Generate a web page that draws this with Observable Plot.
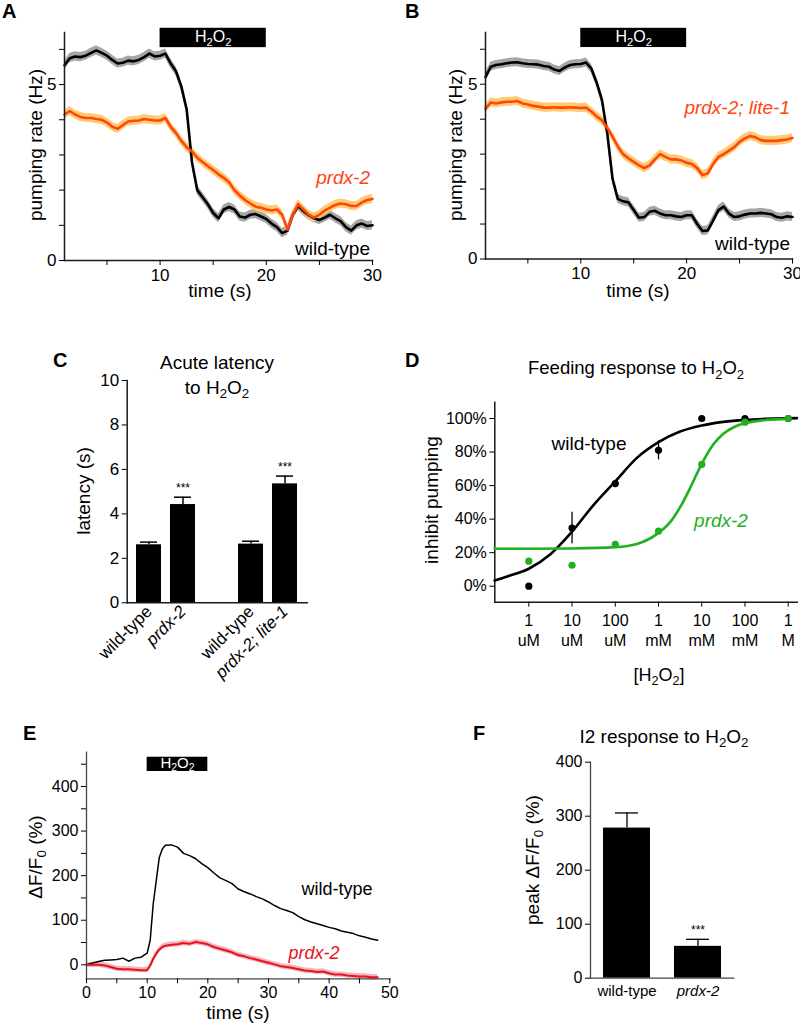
<!DOCTYPE html>
<html><head><meta charset="utf-8">
<script src="https://cdn.jsdelivr.net/npm/d3@7"></script>
<script src="https://cdn.jsdelivr.net/npm/@observablehq/plot@0.6"></script>
<style>
html,body{margin:0;padding:0;background:#fff;overflow:hidden}
#fig{position:relative;width:800px;height:1024px}
#fig svg{position:absolute;left:0;top:0}
</style></head><body><div id="fig"></div>
<script>
// ---------------- DATA ----------------
const abTime = [1,1.5,2,2.5,3,3.5,4,4.5,5,5.5,6,6.5,7,7.5,8,8.5,9,9.5,10,10.5,11,11.5,12,12.5,13,13.5,14,14.5,15,15.5,16,16.5,17,17.5,18,18.5,19,19.5,20,20.5,21,21.5,22,22.5,23,23.5,24,24.5,25,25.5,26,26.5,27,27.5,28,28.5,29,29.5,30];
const aWildType = [5.55,5.75,5.8,5.78,5.82,5.9,5.97,5.9,5.82,5.7,5.6,5.62,5.68,5.66,5.7,5.78,5.88,5.8,5.82,5.88,5.6,5.38,4.95,4.3,2.8,2.0,1.8,1.6,1.35,1.2,1.45,1.52,1.45,1.25,1.22,1.3,1.32,1.25,1.18,1.05,0.95,0.78,0.85,1.3,1.55,1.4,1.28,1.2,1.15,1.22,1.3,1.2,1.12,0.95,0.85,1.0,1.05,0.98,1.0];
const aPrdx2 = [4.15,4.25,4.15,4.08,4.05,4.05,4.02,4.0,3.92,3.8,3.74,3.85,3.95,3.97,3.98,4.02,4.0,3.98,3.98,4.05,3.8,3.62,3.4,3.22,3.1,2.92,2.8,2.68,2.57,2.45,2.35,2.22,2.0,1.85,1.72,1.62,1.53,1.5,1.45,1.42,1.45,1.3,0.88,1.3,1.6,1.45,1.3,1.22,1.3,1.42,1.5,1.58,1.62,1.6,1.55,1.55,1.65,1.72,1.75];
const bWildType = [5.2,5.5,5.55,5.57,5.6,5.62,5.63,5.6,5.58,5.57,5.56,5.52,5.5,5.42,5.38,5.48,5.55,5.57,5.58,5.62,5.45,5.05,4.55,3.6,2.3,1.72,1.65,1.62,1.4,1.18,1.2,1.35,1.38,1.3,1.25,1.25,1.22,1.2,1.25,1.25,1.0,0.8,0.82,1.1,1.4,1.5,1.3,1.2,1.22,1.27,1.3,1.3,1.32,1.3,1.28,1.2,1.18,1.22,1.2];
const bPrdx2Lite1 = [4.3,4.48,4.45,4.48,4.5,4.5,4.52,4.45,4.42,4.38,4.36,4.33,4.33,4.34,4.33,4.33,4.34,4.33,4.32,4.33,4.22,4.08,3.97,3.75,3.5,3.22,3.0,2.88,2.78,2.68,2.6,2.68,2.85,3.0,2.92,2.85,2.85,2.82,2.75,2.72,2.6,2.4,2.45,2.72,2.92,3.0,3.1,3.2,3.35,3.45,3.52,3.48,3.4,3.38,3.38,3.38,3.4,3.42,3.46];
const abSem = 0.13;
const stimAB = [10, 20];

const cKeys = ["wt-1", "prdx-2", "wt-2", "prdx-2; lite-1"];
const cLabels = ["wild-type", "prdx-2", "wild-type", "prdx-2; lite-1"];
const cLatency = [2.61, 4.42, 2.64, 5.35];
const cSem = [0.12, 0.33, 0.13, 0.35];
const cStars = ["", "***", "", "***"];

const dConc = [1e-6, 1e-5, 1e-4, 1e-3, 1e-2, 1e-1, 1];
const dTickLabels = ["1\nuM", "10\nuM", "100\nuM", "1\nmM", "10\nmM", "100\nmM", "1\nM"];
const dWildType = [0.0, 0.347, 0.612, 0.81, 1.0, 1.0, 1.0];
const dWildTypeErr = [0, 0.094, 0, 0.057, 0, 0, 0];
const dPrdx2 = [0.149, 0.125, 0.25, 0.328, 0.726, 0.978, 1.0];
const dFitWildTypeLog = [-6.79, -6.5, -6, -5.5, -5, -4.5, -4, -3.5, -3, -2.5, -2, -1.5, -1, -0.5, 0.2];
const dFitWildType = [0.034, 0.058, 0.104, 0.19, 0.325, 0.485, 0.625, 0.765, 0.859, 0.922, 0.958, 0.98, 0.992, 0.998, 1.002];
const dFitPrdx2Log = [-6.79, -6, -5, -4, -3.5, -3, -2.72, -2.5, -2.26, -2, -1.72, -1.5, -1.26, -1, -0.5, 0];
const dFitPrdx2 = [0.223, 0.223, 0.225, 0.233, 0.252, 0.318, 0.385, 0.471, 0.59, 0.73, 0.849, 0.909, 0.948, 0.972, 0.992, 0.998];

const eTime = [0,1,2,3,4,5,6,7,8,9,10,10.5,11,11.5,12,12.5,13,14,15,16,17,18,19,20,21,22,23,24,25,26,27,28,29,30,31,32,33,34,35,36,37,38,39,40,41,42,43,44,45,46,47,48];
const eWildType = [0,4,7.5,10,11,12,15,8,15,17,26,55,137,189,241,260,268,269,264,250,245,238,227,218,206,195,189,182,170,164,159,153,148,141,133,126,122,117,108,101,96,92,88,84,81,76,73,70,65,62,58,55];
const ePrdx2 = [0,0,0,-1.5,-5,-9,-10,-10,-11,-12,-12,-2,13,25,34,40,43,45,46,49,47,51,49,46,40,36,32,28,22,19,15,12,8,4.5,1,-3,-5,-7,-10,-13,-14,-16,-15,-19,-22,-22,-24,-25,-26,-26,-28,-28];
const ePrdx2Sem = 6;
const stimE = [10, 20];

const fLabels = ["wild-type", "prdx-2"];
const fPeak = [278, 59];
const fSem = [28, 13];
const fStars = ["", "***"];

// ---------------- HELPERS ----------------
const FONT = "'Liberation Sans', Arial, Helvetica, sans-serif";
const W = 800, H = 1024;
const ORANGE = "#ff4510", YEL = "#ffcc70", GREY = "#a6a6a6";
const GREEN = "#1fb01f", RED = "#e3141c", PINK = "#f6b3b9";
const AX = "#1a1a1a";
const fig = document.getElementById("fig");

function mk(box, opts) {
  const svg = Plot.plot({
    width: W, height: H,
    marginLeft: box[0], marginTop: box[1], marginRight: W - box[2], marginBottom: H - box[3],
    style: {background: "transparent", fontFamily: FONT, fontSize: "16px", color: "#000", overflow: "visible"},
    ...opts
  });
  fig.appendChild(svg);
  return svg;
}
function txt(svg, x, y, s, o = {}) {
  return d3.select(svg).append("text")
    .attr("transform", `translate(${x},${y})` + (o.rotate ? ` rotate(${o.rotate})` : ""))
    .attr("text-anchor", o.anchor || "middle")
    .attr("dy", o.dy ?? "0.35em")
    .attr("font-size", o.size || 18)
    .attr("font-weight", o.weight || "normal")
    .attr("font-style", o.italic ? "italic" : "normal")
    .attr("fill", o.fill || "#000")
    .attr("font-family", FONT)
    .text(s);
}
function letter(svg, x, y, s) { txt(svg, x, y, s, {anchor: "start", dy: 0, size: 20, weight: "bold"}); }
function subs(svg) {
  const SHIFT = 0.22, SCALE = 0.7;
  svg.querySelectorAll("text, tspan").forEach(el => {
    if (el.children.length) return;
    const s = el.textContent;
    if (!/[\u2080-\u2089]/.test(s)) return;
    el.textContent = "";
    let down = false;
    for (const part of s.split(/([\u2080-\u2089]+)/)) {
      if (!part) continue;
      const sub = /[\u2080-\u2089]/.test(part);
      const ts = document.createElementNS("http://www.w3.org/2000/svg", "tspan");
      if (sub) {
        ts.textContent = [...part].map(c => String.fromCharCode(c.charCodeAt(0) - 0x2080 + 48)).join("");
        ts.setAttribute("font-size", (SCALE * 100) + "%");
        ts.setAttribute("dy", (SHIFT / SCALE).toFixed(3) + "em");
        down = true;
      } else {
        ts.textContent = part;
        if (down) { ts.setAttribute("dy", (-SHIFT) + "em"); down = false; }
      }
      el.appendChild(ts);
    }
  });
}
function italicize(svg, re) {
  svg.querySelectorAll("text").forEach(el => { if (re.test(el.textContent)) el.setAttribute("font-style", "italic"); });
}
const lo = (v, e) => v.map((d, i) => d - (Array.isArray(e) ? e[i] : e));
const hi = (v, e) => v.map((d, i) => d + (Array.isArray(e) ? e[i] : e));

// ---------------- PANELS A & B ----------------
function tracePanel(box, wt, mut) {
  return mk(box, {
    x: {domain: [1, 30]}, y: {domain: [0, 6.48]},
    marks: [
      Plot.areaY(wt, {x: abTime, y1: lo(wt, abSem), y2: hi(wt, abSem), fill: GREY}),
      Plot.areaY(mut, {x: abTime, y1: lo(mut, abSem), y2: hi(mut, abSem), fill: YEL}),
      Plot.lineY(wt, {x: abTime, stroke: "#000", strokeWidth: 2.6}),
      Plot.lineY(mut, {x: abTime, stroke: ORANGE, strokeWidth: 2.6}),
      Plot.frame({anchor: "left", stroke: AX, strokeWidth: 1.5}),
      Plot.frame({anchor: "bottom", stroke: AX, strokeWidth: 1.5}),
      Plot.axisX({ticks: [5, 10, 15, 20, 25, 30], tickFormat: d => d % 10 ? "" : d, tickSize: 5, tickPadding: 3, fontSize: 17, label: null}),
      Plot.axisY({ticks: [0, 1, 2, 3, 4, 5, 6], tickFormat: d => d % 5 ? "" : d, tickSize: 5, tickPadding: 3, fontSize: 17, label: null}),
      Plot.rect([stimAB], {x1: d => d[0], x2: d => d[1], y1: 6.05, y2: 6.6, fill: "#000"}),
      Plot.text([stimAB], {x: d => (d[0] + d[1]) / 2, y: 6.35, text: () => "H₂O₂", fill: "#fff", fontSize: 16})
    ]
  });
}
const svgA = tracePanel([64, 32, 372, 260], aWildType, aPrdx2);
letter(svgA, 2, 18, "A");
txt(svgA, 35, 145, "pumping rate (Hz)", {rotate: -90, size: 19});
txt(svgA, 220, 290, "time (s)", {size: 19});
txt(svgA, 370, 177, "prdx-2", {anchor: "end", italic: true, fill: ORANGE, size: 19});
txt(svgA, 370, 248, "wild-type", {anchor: "end", size: 19});

const svgB = tracePanel([485, 32, 792, 258.5], bWildType, bPrdx2Lite1);
letter(svgB, 405, 18, "B");
txt(svgB, 455, 145, "pumping rate (Hz)", {rotate: -90, size: 19});
txt(svgB, 638, 290, "time (s)", {size: 19});
txt(svgB, 790, 107, "prdx-2; lite-1", {anchor: "end", italic: true, fill: ORANGE, size: 19});
txt(svgB, 790, 243, "wild-type", {anchor: "end", size: 19});

// ---------------- PANEL C ----------------
const cTop = hi(cLatency, cSem);
const svgC = mk([126.7, 380, 306.7, 602.3], {
  x: {type: "band", domain: [cKeys[0], cKeys[1], "gap", cKeys[2], cKeys[3]], paddingInner: 0.2565, paddingOuter: 0.2425},
  y: {domain: [0, 10]},
  marks: [
    Plot.ruleX(cLatency, {x: cKeys, y1: cLatency, y2: cTop, stroke: "#000", strokeWidth: 1.5}),
    Plot.tickY(cLatency, {x: cKeys, y: cTop, stroke: "#000", strokeWidth: 1.5, insetLeft: 4, insetRight: 4}),
    Plot.barY(cLatency, {x: cKeys, y: cLatency, fill: "#000"}),
    Plot.text(cStars, {x: cKeys, y: cTop, text: cStars, dy: -9, fontSize: 12}),
    Plot.frame({anchor: "left", stroke: AX, strokeWidth: 1.5}),
    Plot.frame({anchor: "bottom", stroke: AX, strokeWidth: 1.5}),
    Plot.axisY({ticks: [0, 2, 4, 6, 8, 10], tickSize: 5, tickPadding: 3, fontSize: 17, label: null}),
    Plot.axisX({ticks: cKeys, tickFormat: k => cLabels[cKeys.indexOf(k)], tickRotate: -45, tickSize: 0, tickPadding: 6, fontSize: 17, label: null})
  ]
});
italicize(svgC, /prdx/);
letter(svgC, 53, 367, "C");
txt(svgC, 217, 362, "Acute latency", {size: 19});
txt(svgC, 217, 387, "to H₂O₂", {size: 19});
txt(svgC, 83, 491, "latency (s)", {rotate: -90, size: 19});

// ---------------- PANEL D ----------------
const svgD = mk([494.3, 401.7, 796.7, 601.7], {
  x: {type: "log", domain: [Math.pow(10, -6.7865), Math.pow(10, 0.208)]},
  y: {domain: [-0.0954, 1.0972]},
  marks: [
    Plot.frame({anchor: "left", stroke: AX, strokeWidth: 1.5}),
    Plot.frame({anchor: "bottom", stroke: AX, strokeWidth: 1.5}),
    Plot.axisY({ticks: [0, 0.2, 0.4, 0.6, 0.8, 1], tickFormat: d => Math.round(d * 100) + "%", tickSize: 5, tickPadding: 3, fontSize: 16, label: null}),
    Plot.axisX({ticks: dConc, tickFormat: d => dTickLabels[dConc.indexOf(d)], tickSize: 5, tickPadding: 5, fontSize: 16, lineHeight: 1.25, label: null}),
    Plot.ruleX(dWildType, {x: dConc, y1: lo(dWildType, dWildTypeErr), y2: hi(dWildType, dWildTypeErr), stroke: "#000", strokeWidth: 1.3}),
    Plot.line(dFitWildType, {x: dFitWildTypeLog.map(e => Math.pow(10, e)), y: dFitWildType, curve: "monotone-x", stroke: "#000", strokeWidth: 2.6}),
    Plot.dot(dWildType, {x: dConc, y: dWildType, r: 3.6, fill: "#000"}),
    Plot.line(dFitPrdx2, {x: dFitPrdx2Log.map(e => Math.pow(10, e)), y: dFitPrdx2, curve: "monotone-x", stroke: GREEN, strokeWidth: 2.6}),
    Plot.dot(dPrdx2, {x: dConc, y: dPrdx2, r: 3.6, fill: GREEN})
  ]
});
letter(svgD, 405, 367, "D");
txt(svgD, 636, 368, "Feeding response to H₂O₂", {size: 18.5});
txt(svgD, 431, 500, "inhibit pumping", {rotate: -90, size: 19});
txt(svgD, 589, 443, "wild-type", {size: 19});
txt(svgD, 721, 520, "prdx-2", {size: 19, italic: true, fill: GREEN});
txt(svgD, 659, 675, "[H₂O₂]", {size: 18});

// ---------------- PANEL E ----------------
const svgE = mk([86, 751.7, 389.3, 978.3], {
  x: {domain: [0, 50]}, y: {domain: [-31.4, 477]},
  marks: [
    Plot.areaY(ePrdx2, {x: eTime, y1: lo(ePrdx2, ePrdx2Sem), y2: hi(ePrdx2, ePrdx2Sem), fill: PINK}),
    Plot.lineY(eWildType, {x: eTime, stroke: "#000", strokeWidth: 1.5}),
    Plot.lineY(ePrdx2, {x: eTime, stroke: RED, strokeWidth: 2}),
    Plot.frame({anchor: "left", stroke: "#444", strokeWidth: 1.3}),
    Plot.frame({anchor: "bottom", stroke: "#444", strokeWidth: 1.3}),
    Plot.axisY({ticks: [0, 50, 100, 150, 200, 250, 300, 350, 400, 450], tickFormat: d => d % 100 ? "" : d, tickSize: 5, tickPadding: 3, fontSize: 16, label: null}),
    Plot.axisX({ticks: [0, 5, 10, 15, 20, 25, 30, 35, 40, 45, 50], tickFormat: d => d % 10 ? "" : d, tickSize: 5, tickPadding: 3, fontSize: 16, label: null}),
    Plot.rect([stimE], {x1: d => d[0], x2: d => d[1], y1: 433.7, y2: 465.7, fill: "#000"}),
    Plot.text([stimE], {x: d => (d[0] + d[1]) / 2, y: 452, text: () => "H₂O₂", fill: "#fff", fontSize: 15})
  ]
});
letter(svgE, 23, 740, "E");
txt(svgE, 35, 857, "ΔF/F₀ (%)", {rotate: -90, size: 19});
txt(svgE, 238, 1012, "time (s)", {size: 19});
txt(svgE, 337, 889, "wild-type", {size: 18});
txt(svgE, 314, 953, "prdx-2", {size: 18, italic: true, fill: RED});

// ---------------- PANEL F ----------------
const fTop = hi(fPeak, fSem);
const svgF = mk([590, 761.7, 733.3, 977.7], {
  x: {type: "band", domain: fLabels, paddingInner: 0.336, paddingOuter: 0.165},
  y: {domain: [0, 400]},
  marks: [
    Plot.ruleX(fPeak, {x: fLabels, y1: fPeak, y2: fTop, stroke: "#000", strokeWidth: 1.3}),
    Plot.tickY(fPeak, {x: fLabels, y: fTop, stroke: "#000", strokeWidth: 1.3, insetLeft: 12, insetRight: 12}),
    Plot.barY(fPeak, {x: fLabels, y: fPeak, fill: "#000"}),
    Plot.text(fStars, {x: fLabels, y: fTop, text: fStars, dy: -9, fontSize: 12}),
    Plot.frame({anchor: "left", stroke: "#444", strokeWidth: 1.3}),
    Plot.frame({anchor: "bottom", stroke: "#444", strokeWidth: 1.3}),
    Plot.axisY({ticks: [0, 100, 200, 300, 400], tickSize: 5, tickPadding: 3, fontSize: 16, label: null}),
    Plot.axisX({tickSize: 0, tickPadding: 7, fontSize: 15, label: null})
  ]
});
italicize(svgF, /prdx/);
letter(svgF, 473, 740, "F");
txt(svgF, 664, 736, "I2 response to H₂O₂", {size: 19});
txt(svgF, 532, 860, "peak ΔF/F₀ (%)", {rotate: -90, size: 19});

[svgA, svgB, svgC, svgD, svgE, svgF].forEach(subs);
</script></body></html>
